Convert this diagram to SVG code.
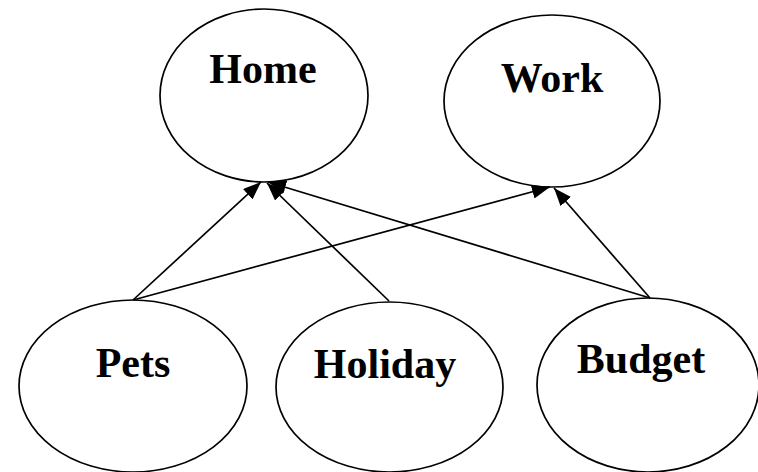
<svg xmlns="http://www.w3.org/2000/svg" width="758" height="472" viewBox="0 0 758 472">
<style>
.node ellipse{fill:#fff;stroke:#000;stroke-width:1.7}
.node text{font-family:"Liberation Serif","Times New Roman",serif;font-weight:bold;font-size:42px;text-anchor:middle;fill:#000}
.edge{stroke:#000;stroke-width:1.7;fill:none;marker-end:url(#arr)}
</style>
<defs>
<marker id="arr" markerUnits="userSpaceOnUse" viewBox="0 0 18 14" refX="18" refY="7" markerWidth="18" markerHeight="14" orient="auto">
<path d="M0,0 L18,7 L0,14 Z" fill="#000"/>
</marker>
</defs>
<rect width="758" height="472" fill="#fff"/>
<g id="home" class="node"><ellipse cx="264" cy="95.5" rx="104" ry="86.5"/><text x="263" y="83">Home</text></g>
<g id="work" class="node"><ellipse cx="552" cy="101" rx="108" ry="86"/><text x="552" y="92">Work</text></g>
<g id="pets" class="node"><ellipse cx="133" cy="386" rx="114" ry="86"/><text x="133" y="377">Pets</text></g>
<g id="holiday" class="node"><ellipse cx="389.5" cy="387" rx="113.5" ry="85"/><text x="385" y="378">Holiday</text></g>
<g id="budget" class="node"><ellipse cx="648" cy="385" rx="111" ry="87"/><text x="641" y="373">Budget</text></g>
<g id="connectors">
<line class="edge" x1="133" y1="300" x2="261" y2="182"/>
<line class="edge" x1="389" y1="301" x2="267" y2="183"/>
<line class="edge" x1="650" y1="298" x2="268" y2="182"/>
<line class="edge" x1="133" y1="300" x2="550" y2="187"/>
<line class="edge" x1="650" y1="298" x2="554" y2="188"/>
</g>
</svg>
